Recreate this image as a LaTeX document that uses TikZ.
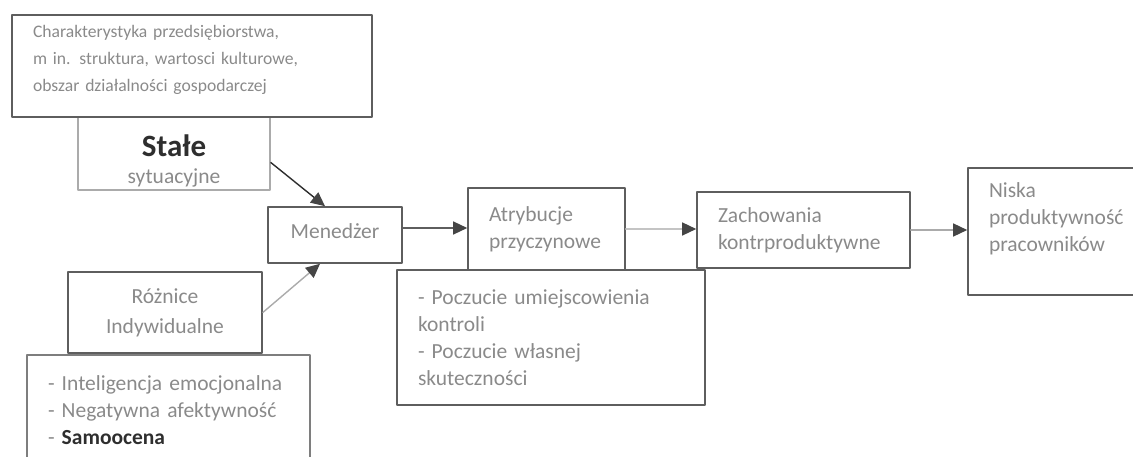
\documentclass[tikz,border=0pt]{standalone}
\usepackage{fontspec}
\setmainfont{Carlito}
\usepackage{tikz}
\usetikzlibrary{arrows.meta}
\definecolor{boxline}{HTML}{5E5E5E}
\definecolor{paleline}{HTML}{ABABAB}
\definecolor{txtgray}{HTML}{8A8A8A}
\definecolor{darktxt}{HTML}{2E2E2E}
\definecolor{tipgray}{HTML}{454545}
\tikzset{
  box/.style={draw=boxline,line width=1.6pt,inner xsep=21pt,inner ysep=0pt,
    text=txtgray,align=left,font=\fontsize{21.5}{27}\selectfont},
  cbox/.style={box,align=center},
  tip/.style={-{Triangle[length=14pt,width=13pt,color=tipgray]},line width=1.4pt}
}
\begin{document}
\begin{tikzpicture}[x=1pt,y=-1pt,line cap=round,line join=round]
  \useasboundingbox (0,0) rectangle (1133,457);
  \clip (0,0) rectangle (1133,457);

  % left column
  \node[cbox,draw=paleline,text width=150pt,minimum height=73pt,text height=37pt] (stale) at (174,153.5)
    {{\fontsize{31}{30}\selectfont\bfseries\color{darktxt}Stałe}\\sytuacyjne};
  \node[box,font=\fontsize{17.6}{27}\selectfont,text width=318pt,minimum height=102pt,text depth=69pt] (char) at (192,66)
    {Charakterystyka przedsiębiorstwa,\\m in. struktura, wartosci kulturowe,\\obszar działalności gospodarczej};
  \node[cbox,text width=92pt,minimum height=56pt,text depth=8pt] (men) at (335,235) {Menedżer};
  \node[cbox,text width=152pt,minimum height=81pt,font=\fontsize{21.5}{30}\selectfont] (roz) at (165,312.5) {Różnice\\Indywidualne};
  \node[box,draw=boxline!80,text width=241pt,minimum height=110pt] (cech) at (168.5,410)
    {- Inteligencja emocjonalna\\- Negatywna afektywność\\- {\bfseries\color{darktxt}Samoocena}};

  % chain
  \node[box,text width=266pt,minimum height=135pt] (pocz) at (551,337.5)
    {- Poczucie umiejscowienia\\kontroli\\- Poczucie własnej\\skuteczności};
  \node[box,text width=115pt,minimum height=82pt] (atr) at (546.5,229) {Atrybucje\\przyczynowe};
  \node[box,text width=171pt,minimum height=76pt] (zach) at (803.5,230) {Zachowania\\kontrproduktywne};
  \node[box,text width=160pt,minimum height=127pt,text depth=83pt] (nisk) at (1069,231.5)
    {Niska\\produktywność\\pracowników};

  % arrows
  \draw[tip,draw=darktxt] ([yshift=-9pt]stale.east) -- ([xshift=-10pt]men.north);
  \draw[tip,draw=paleline] (roz.east) -- ([xshift=-15pt]men.south);
  \draw[tip,draw=boxline] ([yshift=7pt]men.east) -- ([yshift=7pt]men.east -| atr.west);
  \draw[tip,draw=paleline!70] (atr.east) -- (atr.east -| zach.west);
  \draw[tip,draw=paleline] (zach.east) -- (zach.east -| nisk.west);
\end{tikzpicture}
\end{document}
